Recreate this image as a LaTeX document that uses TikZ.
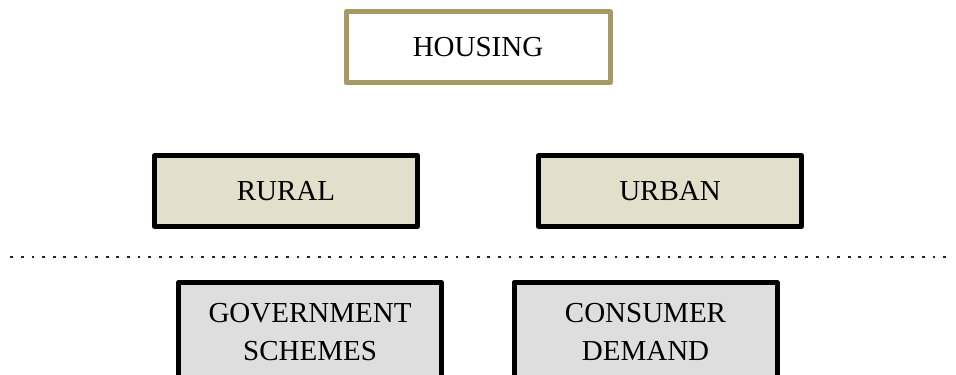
\documentclass[tikz,border=0pt]{standalone}
\usepackage{fontspec}
\setmainfont{Liberation Serif}
\usetikzlibrary{positioning}
\definecolor{housegold}{HTML}{A89A64}
\definecolor{areatan}{HTML}{E2DFCB}
\definecolor{factorgrey}{HTML}{DEDEDE}

\begin{document}
\begin{tikzpicture}[every node/.style={rectangle, line width=2.5pt, line join=round, align=center,
        font=\fontsize{14.5}{19}\selectfont, inner sep=0pt}]
            \useasboundingbox (0,0) rectangle (478pt,187pt);
            \clip (0,0) rectangle (478pt,187pt);
            \node[draw=housegold,fill=white,minimum width=132pt,minimum height=35.5pt] (housing) at (239pt,163.25pt) {HOUSING};
            \node[draw=black,fill=areatan,minimum width=131.5pt,minimum height=35.5pt] (rural) at (143pt,91.5pt) {RURAL};
            \node[draw=black,fill=areatan,minimum width=131.5pt,minimum height=35.5pt] (urban) at (335pt,91.5pt) {URBAN};
            \coordinate (dotl) at (5.2pt,58.5pt);
            \coordinate (dotr) at (476pt,58.5pt);
            \draw[black!85,line width=1.35pt,dash pattern=on 1.35pt off 3.95pt] (dotl) -- (dotr);
            \node[draw=black,fill=factorgrey,minimum width=131.5pt,minimum height=49.5pt] (govt) at (155pt,21pt) {GOVERNMENT\\SCHEMES};
            \node[draw=black,fill=factorgrey,minimum width=131.5pt,minimum height=49.5pt] (consumer) at (322.75pt,21pt) {CONSUMER\\DEMAND};
        \end{tikzpicture}
\end{document}
